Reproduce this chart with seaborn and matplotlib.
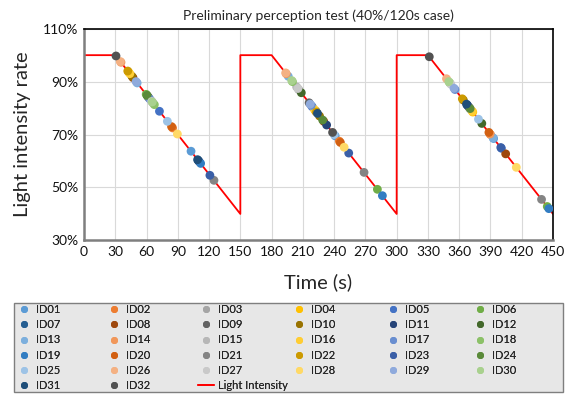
import pandas as pd
import matplotlib
matplotlib.use("Agg")
import matplotlib.pyplot as plt
from matplotlib.patches import Rectangle
import seaborn as sns

# =========================
# DATA
# =========================
ids = [f"ID{i:02d}" for i in range(1, 33)]

colors = ["#5B9BD5", "#ED7D31", "#A5A5A5", "#FFC000", "#4472C4", "#70AD47",
          "#255E91", "#9E480E", "#636363", "#997300", "#264478", "#43682B",
          "#7CAFDD", "#F1975A", "#B7B7B7", "#FFCD33", "#698ED0", "#8CC168",
          "#327DC2", "#D26012", "#848484", "#CC9A00", "#3A5FA7", "#5A8A39",
          "#9DC3E6", "#F4B183", "#C9C9C9", "#FFD966", "#8FAADC", "#A9D18E",
          "#1F4E79", "#525252"]

# response times (s) and light intensity rate (%) for each cycle, ID01..ID32
t_cycle1 = [102.7, 85.0, 66.0, 43.0, 72.4, 59.7, 109.6, 47.0, 62.0, 46.0, 110.5, 61.0,
            51.0, 35.5, 64.5, 44.0, 63.0, 67.5, 111.9, 84.0, 124.7, 42.0, 120.8, 60.5,
            80.0, 34.8, 65.0, 89.6, 50.0, 65.5, 109.0, 30.7]
r_cycle1 = [63.7, 72.5, 82.0, 93.5, 78.8, 85.2, 60.2, 91.5, 84.0, 92.0, 59.8, 84.5,
            89.5, 97.3, 82.8, 93.0, 83.5, 81.3, 59.1, 73.0, 52.7, 94.0, 54.6, 84.8,
            75.0, 97.6, 82.5, 70.2, 90.0, 82.3, 60.5, 99.7]

t_cycle2 = [241.0, 245.0, 206.0, 222.0, 219.0, 281.5, 222.5, 230.0, 216.0, 226.0, 232.8, 208.5,
            196.0, 194.0, 204.0, 221.0, 218.0, 200.0, 286.3, 246.0, 268.7, 223.0, 254.0, 229.0,
            240.0, 193.5, 205.3, 249.6, 217.0, 199.3, 224.0, 238.5]
r_cycle2 = [69.5, 67.5, 87.0, 79.0, 80.5, 49.3, 78.8, 75.0, 82.0, 77.0, 73.6, 85.8,
            92.0, 93.0, 88.0, 79.5, 81.0, 90.0, 46.9, 67.0, 55.7, 78.5, 63.0, 75.5,
            70.0, 93.3, 87.4, 65.2, 81.5, 90.4, 78.0, 70.8]

t_cycle3 = [393.0, 390.0, 370.0, 373.0, 400.5, 444.5, 368.0, 404.6, 369.5, 364.0, 367.8, 381.7,
            392.5, 389.6, 371.0, 372.5, 356.0, 351.0, 446.0, 388.5, 439.0, 363.0, 399.9, 370.5,
            378.5, 347.8, 352.0, 414.8, 355.0, 350.0, 367.0, 331.3]
r_cycle3 = [68.5, 70.0, 80.0, 78.5, 64.8, 42.8, 81.0, 62.7, 80.3, 83.0, 81.1, 74.2,
            68.8, 70.2, 79.5, 78.8, 87.0, 89.5, 42.0, 70.8, 45.5, 83.5, 65.1, 79.8,
            75.8, 91.1, 89.0, 57.6, 87.5, 90.0, 81.5, 99.4]

# light intensity profile
light_t = [0, 30, 150, 150, 180, 300, 300, 330, 450]
light_r = [100, 100, 40, 100, 100, 40, 100, 100, 40]

rows = []
for i, pid in enumerate(ids):
    for t, r in ((t_cycle1[i], r_cycle1[i]), (t_cycle2[i], r_cycle2[i]), (t_cycle3[i], r_cycle3[i])):
        rows.append({"id": pid, "time": t, "rate": r})
df = pd.DataFrame(rows)

# =========================
# PLOT
# =========================
sns.set_style("whitegrid")
plt.rcParams["font.family"] = ["Lato", "DejaVu Sans"]

W, H = 572, 394
fig = plt.figure(figsize=(W / 100, H / 100), dpi=100)
ax = fig.add_axes([84 / W, 1 - 240.4 / H, (553 - 84) / W, (240.4 - 28.7) / H])

sns.lineplot(x=light_t, y=light_r, estimator=None, sort=False, color="#FF0000",
             linewidth=1.3, label="Light Intensity", ax=ax, zorder=2)
sns.scatterplot(data=df, x="time", y="rate", hue="id", hue_order=ids,
                palette=colors, s=40, linewidth=0, ax=ax, zorder=3)

ax.set_xlim(0, 450)
ax.set_ylim(30, 110)
ax.set_xticks(range(0, 451, 30))
ax.set_yticks(range(30, 111, 20))
ax.set_yticklabels([f"{v}%" for v in range(30, 111, 20)])
ax.tick_params(axis="both", labelsize=10, length=0, pad=4, colors="#111111")
ax.grid(True, color="#d9d9d9", linewidth=0.8)

ax.set_title("Preliminary perception test (40%/120s case)", fontsize=10, pad=6)
ax.set_xlabel("Time (s)", fontsize=14.5, labelpad=11)
ax.set_ylabel("Light intensity rate", fontsize=14.5, labelpad=9)

for side in ["left", "bottom"]:
    ax.spines[side].set_color("#7f7f7f")
    ax.spines[side].set_linewidth(1.8)
for side in ["top", "right"]:
    ax.spines[side].set_color("#000000")
    ax.spines[side].set_linewidth(1.2)

# =========================
# LEGEND (row by row, six columns in a grey box)
# =========================
handles, labels = ax.get_legend_handles_labels()
ax.get_legend().remove()
lut = dict(zip(labels, handles))
entries = ids + ["Light Intensity"]

fig.patches.append(Rectangle((14 / W, 1 - 392 / H), 549 / W, 89 / H,
                             transform=fig.transFigure, facecolor="#e7e7e7",
                             edgecolor="#7f7f7f", linewidth=1.0, zorder=0))

col_x = [16, 106, 198, 291, 385, 472]
for c in range(6):
    col = [entries[r * 6 + c] for r in range(6) if r * 6 + c < len(entries)]
    leg = fig.legend([lut[k] for k in col], col, loc="upper left",
                     bbox_to_anchor=(col_x[c] / W, 1 - 304 / H),
                     fontsize=8, frameon=False, handlelength=1.4, handletextpad=0.4,
                     labelspacing=0.38, borderpad=0, borderaxespad=0, markerscale=0.8)
    fig.add_artist(leg)

fig.savefig("out.png", dpi=100)
